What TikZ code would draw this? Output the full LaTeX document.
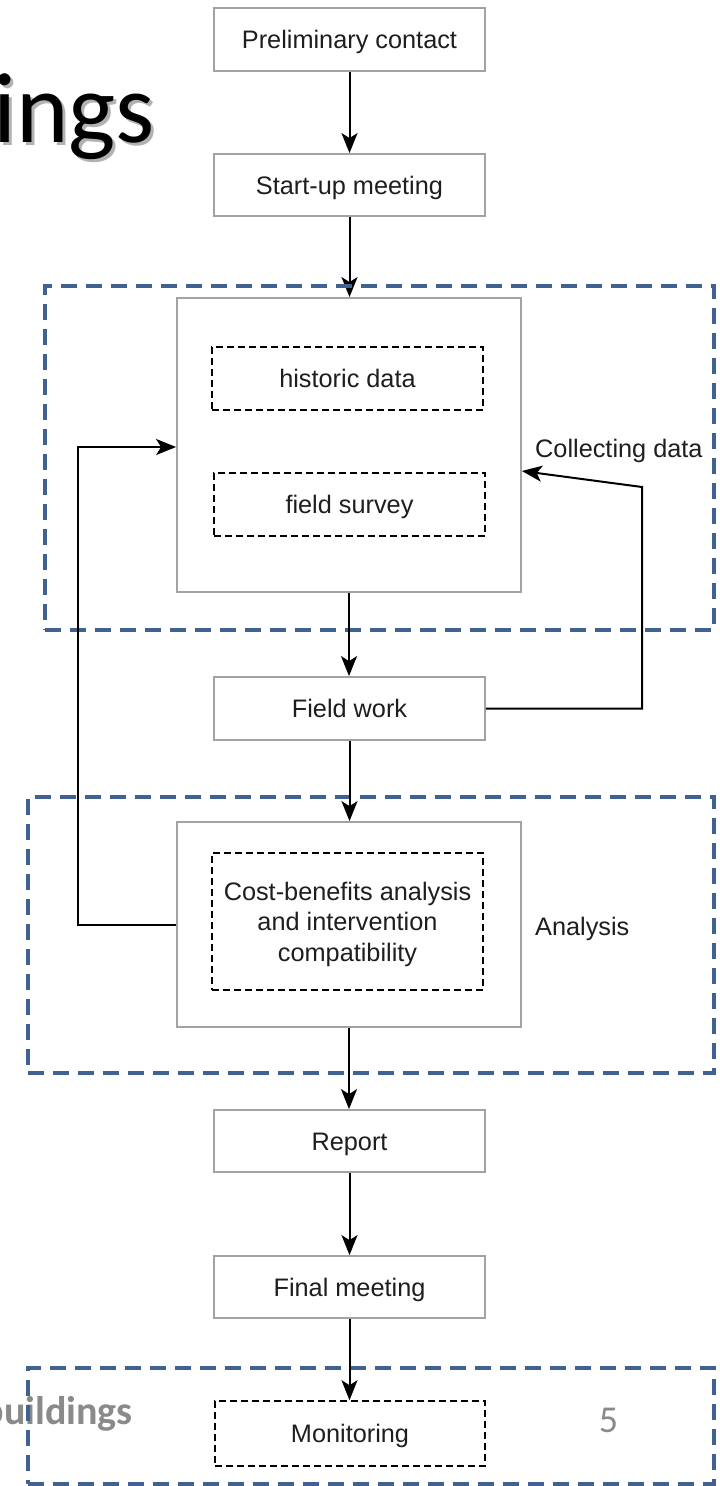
\documentclass[tikz,border=0pt]{standalone}
\usepackage{fontspec}
\setmainfont{Liberation Sans}
\newfontfamily\titlefont{Carlito}
\usetikzlibrary{arrows.meta}
\definecolor{frameblue}{HTML}{3F6291}
\definecolor{boxgray}{HTML}{A3A3A3}
\definecolor{inktext}{HTML}{1E1E1E}
\definecolor{footgray}{HTML}{8A8A8A}
\tikzset{
  oneline/.style={text height=18pt, text depth=0pt},
  stepbox/.style={draw=boxgray, line width=1.8pt, fill=white, minimum width=271pt,
    minimum height=63pt, inner sep=0pt, font=\fontsize{25.3}{30.5}\selectfont, text=inktext, oneline},
  groupbox/.style={draw=boxgray, line width=1.8pt, fill=white, inner sep=0pt},
  subbox/.style={draw=black, line width=1.6pt, dash pattern=on 7pt off 4pt, fill=white,
    minimum width=271pt, minimum height=63pt, inner sep=0pt, align=center,
    font=\fontsize{25.3}{30.5}\selectfont, text=inktext},
  phase/.style={draw=frameblue, line width=4.5pt, dash pattern=on 16pt off 9pt, inner sep=0pt},
  flow/.style={line width=2pt, -{Stealth[length=20pt, width=16pt, inset=5pt]}},
  sidelabel/.style={anchor=west, inner sep=0pt, font=\fontsize{25.3}{30}\selectfont, text=inktext, oneline}
}
\begin{document}
\begin{tikzpicture}[x=1pt, y=-1pt]
\useasboundingbox[fill=white] (0,0) rectangle (720,1486);

% slide title fragment with its drop shadow
\node (titleshadow) [anchor=base west, inner sep=0pt, text=black, opacity=0.3,
  font=\titlefont\fontsize{100}{100}\selectfont] at (-4, 145) {ings};
\node (title) [anchor=base west, inner sep=0pt, text=black, font=\titlefont\fontsize{100}{100}\selectfont]
  at (-7, 142) {ings};

% footer
\node (footer) [anchor=base east, inner sep=0pt, text=footgray, font=\titlefont\bfseries\fontsize{40}{40}\selectfont]
  at (133, 1424) {buildings};
\node (pagenum) [anchor=base, inner sep=0pt, text=footgray, font=\titlefont\fontsize{38}{38}\selectfont]
  at (608.5, 1432) {5};

% main steps
\node (prelim)  [stepbox] at (349.5, 39.5) {Preliminary contact};
\node (startup) [stepbox, minimum height=62pt] at (349.5, 185) {Start-up meeting};

% collecting data group
\node (collect) [groupbox, minimum width=344pt, minimum height=294pt] at (349, 445) {};
\node (historic) [subbox, oneline] at (347.5, 378.5) {historic data};
\node (survey)   [subbox, oneline] at (349.5, 504.5) {field survey};

\draw[flow] (startup.south) -- (startup.south |- collect.north);

\node (phase1) [phase, minimum width=669pt, minimum height=344pt] at (379.5, 458) {};
\node (lblcollect) [sidelabel] at (535, 448) {Collecting data};

\node (fieldwork) [stepbox] at (349.5, 708.5) {Field work};

% analysis group
\node (phase2) [phase, minimum width=686pt, minimum height=276pt] at (371, 935) {};
\node (anbox) [groupbox, minimum width=344pt, minimum height=205pt] at (349, 924.5) {};
\node (cba) [subbox, minimum height=137pt, text depth=0pt] at (347.5, 921.5)
  {Cost-benefits analysis\\and intervention\\compatibility};
\node (lblanalysis) [sidelabel] at (535, 926) {Analysis};

\node (report) [stepbox, minimum height=62pt] at (349.5, 1141) {Report};
\node (final)  [stepbox, minimum height=62pt] at (349.5, 1287) {Final meeting};

% monitoring group
\node (phase3) [phase, minimum width=686pt, minimum height=116pt] at (371, 1426) {};
\node (monitor) [subbox, oneline, minimum width=270pt, minimum height=65pt] at (350, 1433.5) {Monitoring};

% connectors
\draw[flow] (prelim.south) -- (startup.north);
\draw[flow] (collect.south) -- (collect.south |- fieldwork.north);
\draw[flow] (fieldwork.south) -- (fieldwork.south |- anbox.north);
\draw[flow] (anbox.south) -- (anbox.south |- report.north);
\draw[flow] (report.south) -- (final.north);
\draw[flow] (final.south) -- (final.south |- monitor.north);

% feedback loops
\coordinate (fwturn) at (642, 708.5);
\coordinate (fwtop)  at (642, 487);
\draw[flow] (fieldwork.east) -- (fwturn) -- (fwtop) -- ([yshift=-26pt]collect.east);

\coordinate (anturn) at (78, 924.5);
\coordinate (antop)  at (78, 447);
\draw[flow] (anbox.west) -- (anturn) -- (antop) -- (antop -| collect.west);
\end{tikzpicture}
\end{document}
